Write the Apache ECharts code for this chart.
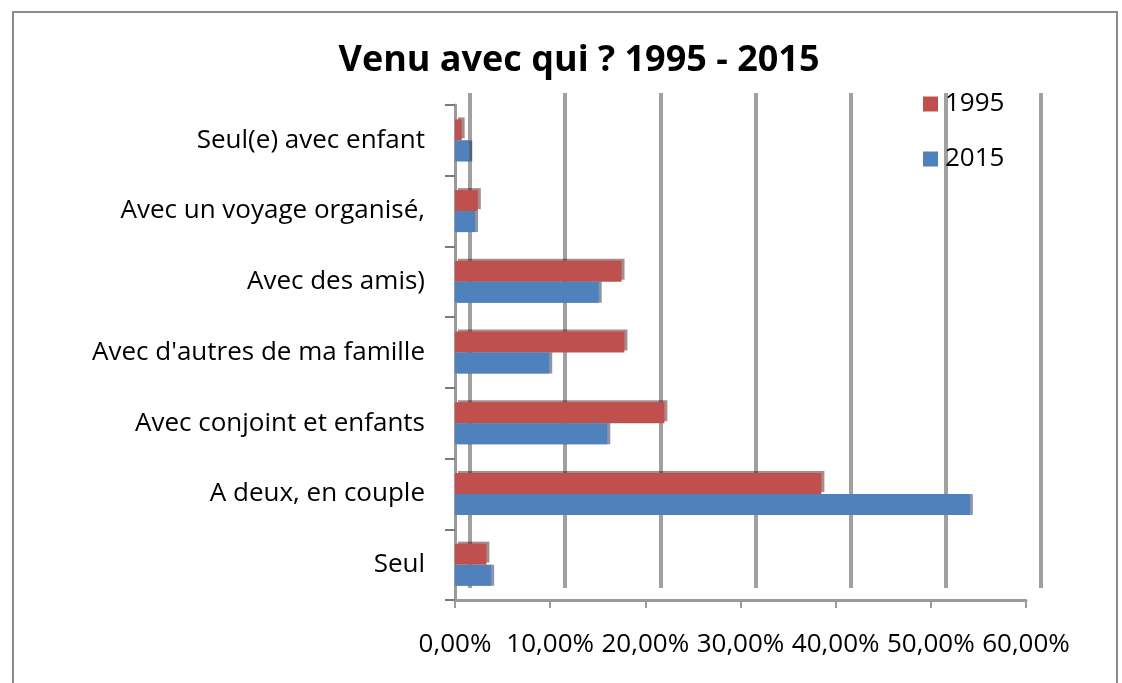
<!DOCTYPE html>
<html>
<head>
	<meta charset="utf-8">
	<title>Venu avec qui ? 1995 - 2015</title>
	<script src="https://cdn.jsdelivr.net/npm/echarts@6/dist/echarts.min.js"></script>
	<style>
		html, body { margin: 0; padding: 0; background: #fff; }
		#main { width: 1122px; height: 683px; }
	</style>
</head>
<body>
	<div id="main"></div>
	<script>
		// categories, bottom to top
		var categories = ['Seul', 'A deux, en couple', 'Avec conjoint et enfants', "Avec d'autres de ma famille", 'Avec des amis)', 'Avec un voyage organisé,', 'Seul(e) avec enfant'];
		var values1995 = [0.033, 0.385, 0.220, 0.178, 0.175, 0.024, 0.007];
		var values2015 = [0.038, 0.541, 0.160, 0.099, 0.151, 0.021, 0.015];
		var xTicks = [0, 0.1, 0.2, 0.3, 0.4, 0.5, 0.6];

		var font = '"Open Sans", sans-serif';
		var chart = echarts.init(document.getElementById('main'));

		function pct(v) {
			return (v * 100).toFixed(2).replace('.', ',') + '%';
		}

		chart.setOption({
			animation: false,
			textStyle: { fontFamily: font },
			title: {
				text: 'Venu avec qui ? 1995 - 2015',
				left: 574,
				textAlign: 'center',
				top: 38,
				textStyle: { fontSize: 36, fontWeight: 'bold', color: '#000', fontFamily: font }
			},
			legend: {
				orient: 'vertical',
				left: 918,
				top: 86,
				itemWidth: 15,
				itemHeight: 15,
				itemGap: 29,
				icon: 'rect',
				data: ['1995', '2015'],
				textStyle: { fontSize: 26, color: '#000', fontFamily: font, padding: [0, 0, 0, 2] }
			},
			graphic: [{
				type: 'rect',
				shape: { x: 13, y: 12, width: 1104, height: 700 },
				style: { fill: 'none', stroke: '#8c8c8c', lineWidth: 2 },
				silent: true
			}],
			grid: [
				// front plane, holds the bars and axis labels
				{ left: 455, right: 96, top: 105, bottom: 83 },
				// back wall, holds the grid lines
				{ left: 470, right: 81, top: 93, bottom: 95 }
			],
			xAxis: [{
				gridIndex: 0,
				type: 'value',
				min: xTicks[0],
				max: xTicks[xTicks.length - 1],
				interval: 0.1,
				axisLine: { show: true, lineStyle: { color: '#9a9a9a', width: 3 } },
				axisTick: { show: true, length: 8, lineStyle: { color: '#9a9a9a', width: 2 } },
				splitLine: { show: false },
				axisLabel: {
					margin: 32,
					fontSize: 26,
					color: '#000',
					fontFamily: font,
					formatter: pct
				}
			}, {
				gridIndex: 1,
				type: 'value',
				min: xTicks[0],
				max: xTicks[xTicks.length - 1],
				interval: 0.1,
				axisLine: { show: false },
				axisTick: { show: false },
				axisLabel: { show: false },
				splitLine: { show: true, lineStyle: { color: '#a0a0a0', width: 4 } }
			}],
			yAxis: [{
				gridIndex: 0,
				type: 'category',
				data: categories,
				axisLine: { show: true, lineStyle: { color: '#9a9a9a', width: 3 } },
				axisTick: { show: true, length: 10, lineStyle: { color: '#7a7a7a', width: 2 } },
				axisLabel: {
					margin: 30,
					fontSize: 26,
					color: '#000',
					fontFamily: font
				}
			}, {
				gridIndex: 1,
				type: 'category',
				data: categories,
				axisLine: { show: false },
				axisTick: { show: false },
				axisLabel: { show: false }
			}],
			series: [{
				name: '1995',
				type: 'bar',
				xAxisIndex: 0,
				yAxisIndex: 0,
				data: values1995,
				barWidth: 21,
				barGap: '0%',
				itemStyle: { color: '#C0504D', shadowColor: 'rgba(60,0,0,0.45)', shadowOffsetX: 3, shadowOffsetY: -2 }
			}, {
				name: '2015',
				type: 'bar',
				xAxisIndex: 0,
				yAxisIndex: 0,
				data: values2015,
				barWidth: 21,
				barGap: '0%',
				itemStyle: { color: '#4F81BD', shadowColor: 'rgba(0,20,60,0.45)', shadowOffsetX: 3, shadowOffsetY: 0 }
			}]
		});
	</script>
</body>
</html>
